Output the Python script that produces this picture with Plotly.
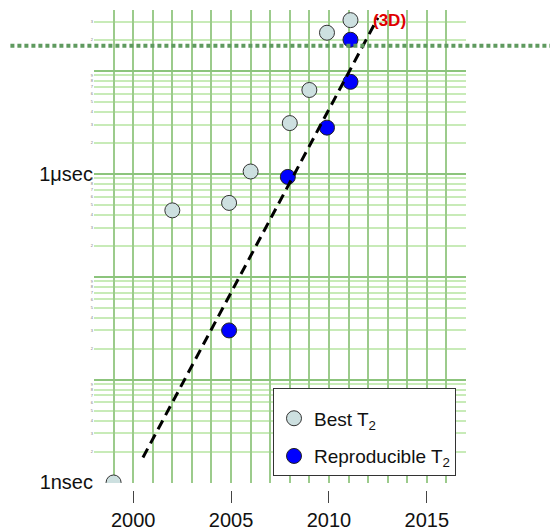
import math
import plotly.graph_objects as go

# ---- data ----
best_years = [1999, 2002, 2004.9, 2006, 2008, 2009, 2009.9, 2011.1]
best_t2 = [1.0e-9, 4.4e-7, 5.2e-7, 1.05e-6, 3.1e-6, 6.5e-6, 2.34e-5, 3.1e-5]

repro_years = [2004.9, 2007.9, 2009.9, 2011.1, 2011.1]
repro_t2 = [3.0e-8, 9.3e-7, 2.8e-6, 7.8e-6, 2.0e-5]

trend_years = [2000.5, 2012.5]
trend_t2 = [1.75e-9, 3.27e-5]

limit_t2 = 1.75e-5

year_ticks = [2000, 2005, 2010, 2015]
decade_vals = [1e-9, 1e-8, 1e-7, 1e-6, 1e-5]
decade_text = ["1nsec", "", "", "1\u03bcsec", ""]

minor_vals = []
minor_digits = []
for d in range(-9, -4):
    for m in range(2, 10):
        v = m * 10 ** d
        if v <= 3.9e-5:
            minor_vals.append(v)
            minor_digits.append(str(m))

FONT = "Arial, Liberation Sans, sans-serif"
xr = [1998, 2017]
yr = [-9.005, -4.41]

fig = go.Figure()

fig.add_trace(go.Scatter(
    x=trend_years, y=trend_t2, mode="lines", xaxis="x2", yaxis="y2",
    line=dict(color="black", width=3, dash="10px,6px"),
    showlegend=False, hoverinfo="skip"))

fig.add_trace(go.Scatter(
    x=best_years, y=best_t2, mode="markers", name="Best T<sub>2</sub>",
    legendgroup="a",
    marker=dict(size=15, color="#cde0e0", line=dict(color="#333333", width=1))))

fig.add_trace(go.Scatter(
    x=repro_years, y=repro_t2, mode="markers", name="Reproducible T<sub>2</sub>",
    legendgroup="b",
    marker=dict(size=15, color="#0000ff", line=dict(color="#222222", width=1))))

fig.add_shape(type="line", xref="paper", yref="y", x0=-0.3, x1=1.3,
              y0=limit_t2, y1=limit_t2,
              line=dict(color="#5f9a5f", width=4, dash="4px,3px"), layer="above")

fig.add_annotation(x=2013.1, y=math.log10(3.1e-5), xref="x", yref="y",
                   text="<b>(3D)</b>", showarrow=False,
                   font=dict(family=FONT, size=17, color="#e00000"))

fig.update_layout(
    width=550, height=523,
    margin=dict(l=86, r=92, t=2, b=41),
    plot_bgcolor="white", paper_bgcolor="white",
    font=dict(family=FONT, color="#111111"),
    xaxis=dict(range=xr, domain=[0, 1], anchor="y", tick0=1998, dtick=1,
               showgrid=True, gridcolor="#9ccb8c", gridwidth=1.6,
               showticklabels=False, ticks="", zeroline=False, showline=False,
               automargin=False),
    xaxis2=dict(range=xr, overlaying="x", anchor="free", position=0,
                tickvals=year_ticks, ticks="outside", ticklen=12, tickwidth=1,
                tickcolor="#444444", showgrid=False, zeroline=False, showline=False,
                automargin=False, ticklabelstandoff=0,
                tickfont=dict(family=FONT, size=20, color="#111111")),
    yaxis=dict(type="log", range=yr, domain=[7 / 480, 1], anchor="x",
               tickvals=decade_vals, ticktext=decade_text,
               showgrid=True, gridcolor="#8cc47c", gridwidth=1.5,
               minor=dict(tickvals=minor_vals, showgrid=True,
                          gridcolor="#c8ebb8", gridwidth=1.5, ticks=""),
               ticks="", zeroline=False, showline=False, automargin=False,
               ticklabelstandoff=0,
               tickfont=dict(family=FONT, size=20, color="#111111")),
    yaxis2=dict(type="log", range=yr, overlaying="y", anchor="x", side="left",
                tickvals=minor_vals, ticktext=minor_digits, ticks="",
                showgrid=False, zeroline=False, showline=False,
                ticklabelstandoff=0, automargin=False,
                tickfont=dict(family=FONT, size=4, color="#777777")),
    legend=dict(x=(273 - 94) / 372, y=(490 - 388) / 480, xanchor="left", yanchor="top",
                bgcolor="white", bordercolor="#333333", borderwidth=1,
                font=dict(family=FONT, size=19, color="#111111"),
                title=dict(text="&nbsp;", font=dict(size=8)),
                tracegroupgap=10, traceorder="grouped"),
    showlegend=True,
)

fig.write_html("out.html")
